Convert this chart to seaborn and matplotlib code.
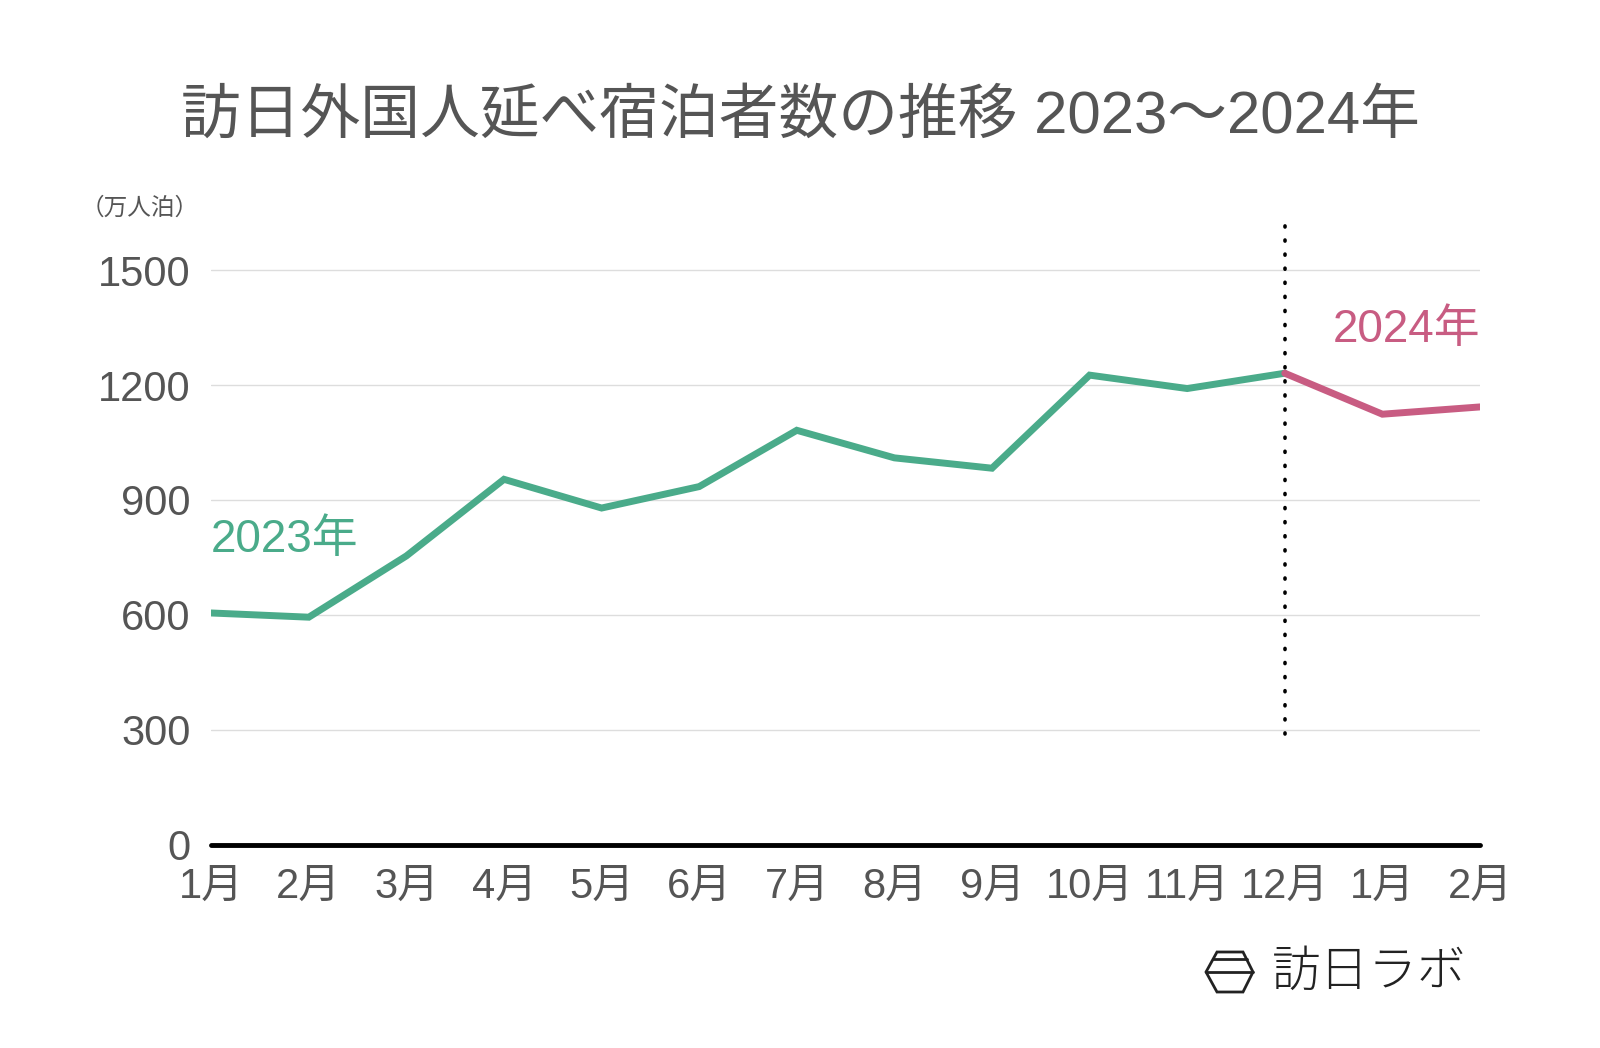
import matplotlib
matplotlib.use("Agg")
import matplotlib.pyplot as plt
import seaborn as sns
import pandas as pd
from matplotlib.patches import Polygon
from matplotlib.lines import Line2D

# ---- data ----
month_labels = ["1月", "2月", "3月", "4月", "5月", "6月", "7月", "8月", "9月",
                "10月", "11月", "12月", "1月", "2月"]
values_2023 = [605, 594, 754, 954, 879, 935, 1082, 1010, 983, 1226, 1191, 1231]
values_2024 = [1124, 1143]
y_ticks = [0, 300, 600, 900, 1200, 1500]

title = "訪日外国人延べ宿泊者数の推移 2023～2024年"
unit_label = "（万人泊）"
label_2023 = "2023年"
label_2024 = "2024年"
logo_text = "訪日ラボ"

green = "#4aab8a"
pink = "#c85c82"
text_grey = "#555555"

sns.set_theme(style="white")
plt.rcParams["font.family"] = ["Liberation Sans", "Noto Sans CJK JP", "DejaVu Sans"]

n23 = len(values_2023)
df = pd.DataFrame({
    "pos": list(range(n23)) + list(range(n23 - 1, n23 + len(values_2024))),
    "value": values_2023 + [values_2023[-1]] + values_2024,
    "series": [label_2023] * n23 + [label_2024] * (len(values_2024) + 1),
})

fig = plt.figure(figsize=(16, 10.48), dpi=100)
ax = fig.add_axes([0.132, 0.194, 0.925 - 0.132, 0.797 - 0.194])

for y in y_ticks[1:]:
    ax.axhline(y, color="#dddddd", lw=1, zorder=0)

sns.lineplot(data=df, x="pos", y="value", hue="series",
             palette={label_2023: green, label_2024: pink},
             linewidth=5, legend=False, ax=ax, zorder=3,
             solid_joinstyle="miter")

ax.axhline(0, color="black", lw=3.5, zorder=4, clip_on=False)
ax.vlines(n23 - 1, 290, 1640, colors="black", lw=2.6,
          linestyles=[(0, (0.3, 3.6))], zorder=2)
for coll in ax.collections:
    coll.set_capstyle("round")

ax.set_xlim(0, len(month_labels) - 1)
ax.set_ylim(0, 1650)
ax.set_xticks(range(len(month_labels)))
ax.set_xticklabels(month_labels)
ax.set_yticks(y_ticks)
ax.set_yticklabels([str(v) for v in y_ticks])
ax.tick_params(axis="both", length=0, labelsize=30, colors=text_grey)
ax.tick_params(axis="y", pad=15)
ax.tick_params(axis="x", pad=16)
ax.set_xlabel("")
ax.set_ylabel("")
for s in ax.spines.values():
    s.set_visible(False)

ax.text(0.0, 795, label_2023, color=green, fontsize=33, ha="left", va="center")
ax.text(13.0, 1345, label_2024, color=pink, fontsize=33, ha="right", va="center")

fig.text(0.0875, 0.801, unit_label, fontsize=17, color=text_grey,
         ha="center", va="center")
fig.text(0.5, 0.888, title, fontsize=43, color=text_grey,
         ha="center", va="center")

# logo
W, H = 1600, 1048
def fx(x): return x / W
def fy(y): return 1 - y / H
hexagon = [(1217, 952), (1243, 952), (1253, 972), (1243, 992), (1217, 992), (1206, 972)]
fig.patches.append(Polygon([(fx(x), fy(y)) for x, y in hexagon], closed=True,
                           fill=False, edgecolor="#222222", lw=2,
                           transform=fig.transFigure))
fig.lines.append(Line2D([fx(1213), fx(1247)], [fy(959), fy(959)],
                        color="#222222", lw=2, transform=fig.transFigure))
fig.lines.append(Line2D([fx(1206), fx(1253)], [fy(972), fy(972)],
                        color="#222222", lw=2, transform=fig.transFigure))
fig.text(fx(1272), fy(972), logo_text, fontsize=35, fontweight="light",
         color="#222222", ha="left", va="center",
         family=["Noto Sans CJK JP", "DejaVu Sans"])

fig.savefig("out.png", dpi=100, facecolor="white")
